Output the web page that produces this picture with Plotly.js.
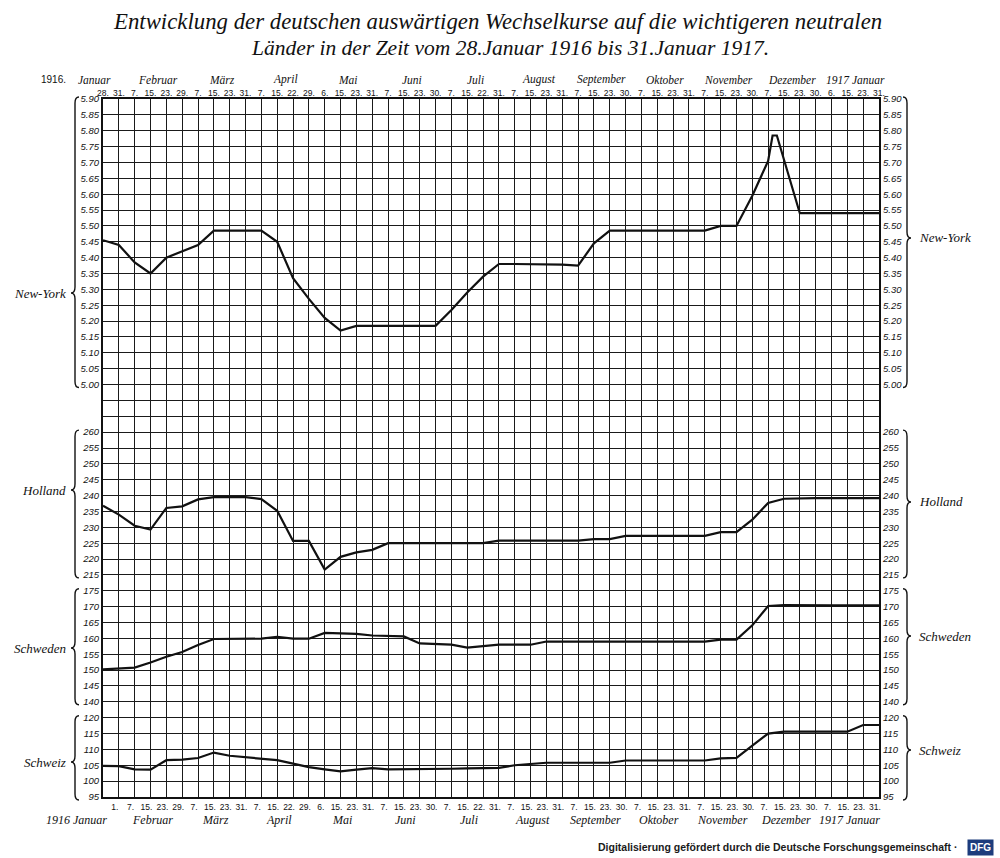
<!DOCTYPE html>
<html><head><meta charset="utf-8">
<script src="https://cdn.plot.ly/plotly-3.0.1.min.js"></script>
<style>html,body{margin:0;padding:0;background:#fff}#chart{width:1000px;height:858px}</style>
</head><body><div id="chart"></div>
<script>
// ---------------- data ----------------
const topDates = ['28.','31.','7.','15.','23.','29.','7.','15.','23.','31.','7.','15.','22.','29.','6.','15.','23.','31.','7.','15.','23.','30.','7.','15.','22.','31.','7.','15.','23.','31.','7.','15.','23.','30.','7.','15.','23.','31.','7.','15.','23.','30.','7.','15.','23.','30.','6.','15.','23.','31.'];
const bottomDates = ['','1.','7.','15.','23.','29.','7.','15.','23.','31.','7.','15.','22.','29.','6.','15.','23.','31.','7.','15.','23.','30.','7.','15.','22.','31.','7.','15.','23.','31.','7.','15.','23.','30.','7.','15.','23.','31.','7.','15.','23.','30.','7.','15.','23.','30.','7.','15.','23.','31.'];
const topMonths = ['Januar','Februar','März','April','Mai','Juni','Juli','August','September','Oktober','November','Dezember','1917 Januar'];
const bottomMonths = ['1916 Januar','Februar','März','April','Mai','Juni','Juli','August','September','Oktober','November','Dezember','1917 Januar'];
const monthStartCol = [0,2,6,10,14,18,22,26,30,34,38,42,46];
const titleLines = ['Entwicklung der deutschen auswärtigen Wechselkurse auf die wichtigeren neutralen',
                    'Länder in der Zeit vom 28.Januar 1916 bis 31.Januar 1917.'];

const cols = topDates.map((d,i)=>i);

// New-York (peak in December falls between grid columns)
const nyX = [0,1,2,3,4,5,6,7,8,9,10,11,12,13,14,15,16,17,18,19,20,21,22,23,24,25,26,27,28,29,30,31,32,33,34,35,36,37,38,39,40,41,42,42.28,42.55,44,45,46,47,48,49];
const nyVals = [5.455,5.44,5.385,5.35,5.40,5.42,5.44,5.485,5.485,5.485,5.485,5.45,5.335,5.27,5.21,5.17,5.185,5.185,5.185,5.185,5.185,5.185,5.235,5.29,5.34,5.38,5.38,5.38,5.38,5.378,5.375,5.445,5.485,5.485,5.485,5.485,5.485,5.485,5.485,5.50,5.50,5.595,5.705,5.785,5.785,5.54,5.54,5.54,5.54,5.54,5.54];
const hollandVals = [236.8,234,230.5,229.3,236.1,236.6,238.8,239.5,239.5,239.5,238.9,235.2,225.7,225.7,216.7,220.7,222.1,222.9,225,225,225,225,225,225,225,225.8,225.8,225.8,225.8,225.8,225.8,226.3,226.3,227.3,227.3,227.3,227.3,227.3,227.3,228.5,228.5,232.4,237.7,239,239.2,239.2,239.2,239.2,239.2,239.2];
const schwedenVals = [150.2,150.5,150.8,152.4,154.2,155.7,157.9,159.8,159.8,159.8,159.9,160.5,159.9,159.9,161.7,161.6,161.4,160.9,160.7,160.6,158.4,158.3,158.0,157.1,157.5,158.0,158.0,158.0,159.0,159.0,159.0,159.0,159.0,159.0,159.0,159.0,159.0,159.0,159.0,159.6,159.6,164.1,170.2,170.5,170.4,170.4,170.4,170.4,170.4,170.4];
const schweizVals = [104.8,104.7,103.7,103.6,106.6,106.8,107.3,109.0,108.0,107.5,107.2,106.6,105.5,104.4,103.7,103.1,103.6,104.1,103.7,103.7,103.8,103.8,103.9,104.0,104.1,104.2,105.0,105.4,105.8,105.8,105.8,105.8,105.8,106.5,106.5,106.5,106.5,106.5,106.5,107.2,107.3,111.2,115.0,115.6,115.6,115.6,115.6,115.6,117.7,117.7];

// ---------------- layout geometry ----------------
const W = 1000, H = 858;
const M = {l:103, r:121, t:99, b:61};
const PW = W - M.l - M.r, PH = H - M.t - M.b;
const px2x = px => (px - M.l) / PW;
const py2y = py => 1 - (py - M.t) / PH;
const NROWS = 44;
const lineY = k => M.t + k * PH / NROWS;

const panels = [
  {name:'New-York', x:nyX, y:nyVals, min:5.00, max:5.90, step:0.05, dec:2, topLine:0, botLine:18, lTip:293, rTip:238},
  {name:'Holland', x:cols, y:hollandVals, min:215, max:260, step:5, dec:0, topLine:21, botLine:30, lTip:490, rTip:502},
  {name:'Schweden', x:cols, y:schwedenVals, min:140, max:175, step:5, dec:0, topLine:31, botLine:38, lTip:648, rTip:636},
  {name:'Schweiz', x:cols, y:schweizVals, min:95, max:120, step:5, dec:0, topLine:39, botLine:44, lTip:762, rTip:750}
];

const INK = '#111111';
const GRID = '#1a1a1a';
const tickFont = {family:'Liberation Sans, Arial, sans-serif', size:9.5, color:INK, style:'italic'};
const dateFont = {family:'Liberation Sans, Arial, sans-serif', size:8.5, color:INK};
const scriptFont = (s) => ({family:'Liberation Serif, DejaVu Serif, serif', size:s, color:INK, style:'italic'});

const traces = [];
const layout = {
  width: W, height: H,
  margin: {l:M.l, r:M.r, t:M.t, b:M.b, pad:0},
  paper_bgcolor:'#ffffff', plot_bgcolor:'rgba(0,0,0,0)',
  showlegend:false,
  xaxis: {
    range:[0, cols.length-1], tickvals:cols, ticktext:bottomDates, showgrid:true, gridcolor:GRID, gridwidth:1,
    zeroline:false, showline:true, linecolor:INK, linewidth:2, mirror:true, ticks:'', tickangle:0,
    tickfont:dateFont, ticklabelshift:-4, ticklabelstandoff:1,
    anchor:'y', fixedrange:true
  },
  xaxis2: {
    range:[0, cols.length-1], tickvals:cols, ticktext:topDates, overlaying:'x', side:'top', anchor:'y',
    showgrid:false, zeroline:false, ticks:'', tickangle:0,
    tickfont:dateFont, ticklabelstandoff:0, fixedrange:true
  },
  yaxis: {
    domain:[0,1], range:[NROWS, 0], tick0:0, dtick:1, showgrid:true, gridcolor:GRID, gridwidth:1,
    showticklabels:false, ticks:'', zeroline:false, showline:true, linecolor:INK, linewidth:2, mirror:true,
    anchor:'x', fixedrange:true
  },
  annotations: [],
  shapes: []
};

// title (two lines of different width in the original lettering)
layout.annotations.push({text:titleLines[0], xref:'paper', yref:'paper', x:px2x(497), y:py2y(21), xanchor:'center',
                         yanchor:'middle', showarrow:false, font:scriptFont(22.8)});
layout.annotations.push({text:titleLines[1], xref:'paper', yref:'paper', x:px2x(510), y:py2y(48), xanchor:'center',
                         yanchor:'middle', showarrow:false, font:scriptFont(21.5)});

// invisible helper traces so the grid subplot and the top axis are always built
traces.push({x:[cols[0], cols[cols.length-1]], y:[0, NROWS], xaxis:'x', yaxis:'y', mode:'none', hoverinfo:'skip', showlegend:false});
traces.push({x:[cols[0], cols[cols.length-1]], y:[0, NROWS], xaxis:'x2', yaxis:'y', mode:'none', hoverinfo:'skip', showlegend:false});

function bracePath(xPx, y0, y1, tip, dir, w) {
  // dir=-1: tip points left ("{"), dir=+1: tip points right ("}")
  const r = Math.min(6, (tip - y0) / 3, (y1 - tip) / 3);
  const xe = xPx - dir * w;
  const xt = xPx + dir * w;
  const P = (x, y) => `${px2x(x).toFixed(5)},${py2y(y).toFixed(5)}`;
  return `M ${P(xe, y0)} Q ${P(xPx, y0)} ${P(xPx, y0 + r)} L ${P(xPx, tip - r)} Q ${P(xPx, tip)} ${P(xt, tip)} ` +
         `Q ${P(xPx, tip)} ${P(xPx, tip + r)} L ${P(xPx, y1 - r)} Q ${P(xPx, y1)} ${P(xe, y1)}`;
}

panels.forEach((p, i) => {
  const L = 'y' + (i + 2), R = 'y' + (i + 6);
  const domain = [1 - p.botLine / NROWS, 1 - p.topLine / NROWS];
  const tv = [], tt = [];
  const n = Math.round((p.max - p.min) / p.step);
  for (let k = 0; k <= n; k++) { const v = +(p.min + k * p.step).toFixed(4); tv.push(v); tt.push(v.toFixed(p.dec)); }
  const common = {range:[p.min, p.max], tickvals:tv, ticktext:tt, showgrid:false, zeroline:false, showline:false,
                  ticks:'', tickfont:tickFont, fixedrange:true};
  layout['yaxis' + (i + 2)] = Object.assign({domain:domain, anchor:'x', side:'left', ticklabelstandoff:3}, common);
  layout['yaxis' + (i + 6)] = Object.assign({overlaying:L, anchor:'x', side:'right', ticklabelstandoff:3}, common);

  traces.push({x:p.x, y:p.y, xaxis:'x', yaxis:L, mode:'lines', name:p.name,
               line:{color:INK, width:2.2, shape:'linear'}, hoverinfo:'x+y'});
  traces.push({x:p.x, y:p.y, xaxis:'x', yaxis:R, mode:'lines', line:{width:0, color:'rgba(0,0,0,0)'},
               hoverinfo:'skip', showlegend:false});

  const yTop = lineY(p.topLine) - 2, yBot = lineY(p.botLine) + 3;
  layout.shapes.push({type:'path', xref:'paper', yref:'paper', path:bracePath(75, yTop, yBot, p.lTip, -1, 4),
                      line:{color:INK, width:1.4}});
  layout.shapes.push({type:'path', xref:'paper', yref:'paper', path:bracePath(907, yTop, yBot, p.rTip, 1, 4),
                      line:{color:INK, width:1.4}});
  layout.annotations.push({text:p.name, xref:'paper', yref:'paper', x:px2x(68), y:py2y(p.lTip), xanchor:'right',
                           yanchor:'middle', showarrow:false, font:scriptFont(13)});
  layout.annotations.push({text:p.name, xref:'paper', yref:'paper', x:px2x(917), y:py2y(p.rTip), xanchor:'left',
                           yanchor:'middle', showarrow:false, font:scriptFont(13)});
});

// month labels
monthStartCol.forEach((s, i) => {
  const e = (i + 1 < monthStartCol.length ? monthStartCol[i + 1] : cols.length) - 1;
  const c = (s + e) / 2;
  const first = i === 0;
  layout.annotations.push({text:topMonths[i], xref:'x', yref:'paper', x:c, y:py2y(80), xanchor:'center', yanchor:'middle',
                           xshift: first ? -16 : 0, showarrow:false, font:scriptFont(11.5)});
  layout.annotations.push({text:bottomMonths[i], xref:'x', yref:'paper', x: first ? 0.5 : c, y:py2y(820),
                           xanchor: first ? 'right' : 'center', yanchor:'middle', xshift: first ? -2 : -6,
                           showarrow:false, font:scriptFont(12)});
});
layout.annotations.push({text:'1916.', xref:'paper', yref:'paper', x:px2x(68), y:py2y(80), xanchor:'right', yanchor:'middle',
                         showarrow:false, font:{family:'Liberation Sans, Arial, sans-serif', size:10, color:INK}});

// footer
layout.annotations.push({text:'Digitalisierung gefördert durch die Deutsche Forschungsgemeinschaft ·', xref:'paper', yref:'paper',
                         x:px2x(959), y:py2y(847), xanchor:'right', yanchor:'middle', showarrow:false,
                         font:{family:'Liberation Sans, Arial, sans-serif', size:10.5, color:'#1a1a1a', weight:'bold'}});
layout.annotations.push({text:'DFG', xref:'paper', yref:'paper', x:px2x(980), y:py2y(847), xanchor:'center', yanchor:'middle',
                         showarrow:false, bgcolor:'#1d3c7c', borderpad:2,
                         font:{family:'Liberation Sans, Arial, sans-serif', size:10, color:'#ffffff', weight:'bold'}});

Plotly.newPlot('chart', traces, layout, {displayModeBar:false, staticPlot:true});
</script>
</body></html>
